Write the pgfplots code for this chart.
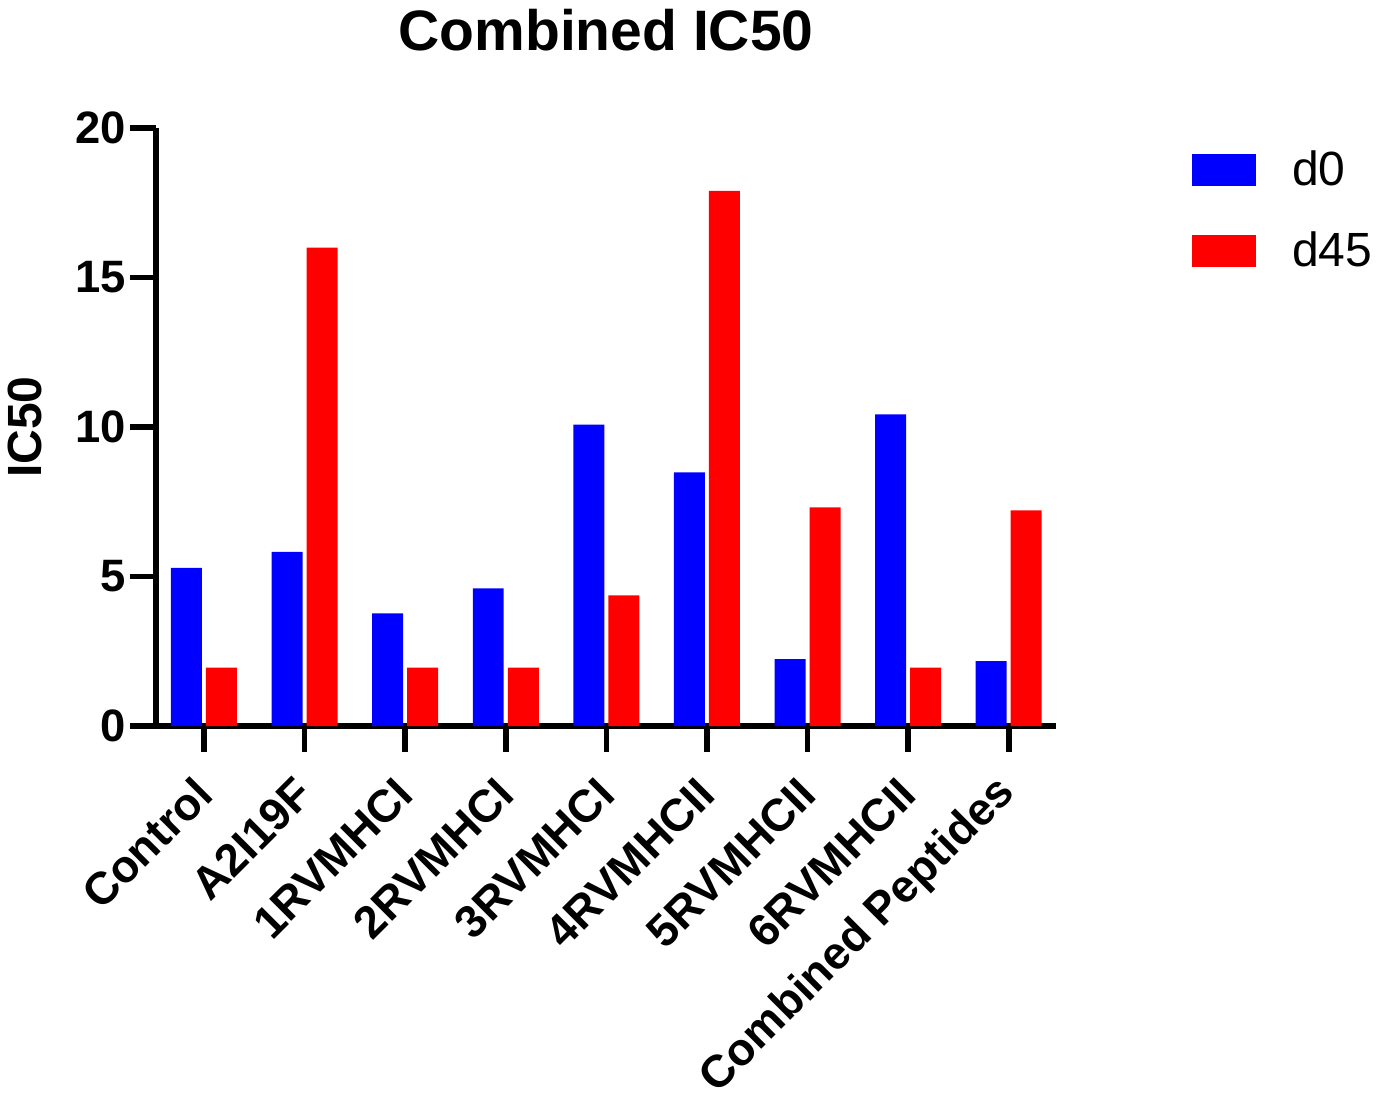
\documentclass[border=0pt]{standalone}
\usepackage{pgfplots}
\pgfplotsset{compat=1.18}
\usepackage{fontspec}
\setmainfont{Liberation Sans}
\begin{document}
\begin{tikzpicture}
\path[use as bounding box] (-78pt,-184pt) rectangle (611pt,363pt);
\begin{axis}[
  scale only axis,
  width=450pt, height=299pt,
  xmin=-0.477, xmax=8.47,
  ymin=0, ymax=20,
  axis x line=bottom, axis y line=left,
  axis line style={-, line width=2.8pt, black},
  tick style={line width=2.8pt, black},
  tick align=outside,
  major tick length=13pt,
  xtick={0,1,2,3,4,5,6,7,8},
  xticklabels={Control,A2I19F,1RVMHCI,2RVMHCI,3RVMHCI,4RVMHCII,5RVMHCII,6RVMHCII,Combined Peptides},
  ytick={0,5,10,15,20},
  /pgf/number format/assume math mode=true,
  ticklabel style={font=\fontsize{22.7}{27}\selectfont\bfseries, inner sep=0pt},
  yticklabel style={anchor=east, xshift=-2pt},
  xticklabel style={yshift=-17pt, rotate=45, anchor=east},
  ylabel={IC50},
  ylabel style={at={(axis description cs:-0.1456,0.5)}, anchor=center, font=\fontsize{24}{28}\selectfont\bfseries},
  title={Combined IC50},
  title style={at={(axis description cs:0.5,1.1304)}, anchor=base, yshift=-6pt, font=\fontsize{28.5}{34}\selectfont\bfseries},
  legend style={at={(axis description cs:1.151,0.962)}, anchor=north west, draw=none, fill=none, inner sep=0pt,
    font=\fontsize{24}{28}\selectfont, row sep=21.5pt,
    nodes={inner sep=0pt}},
  legend cell align=left,
  /tikz/every odd column/.append style={column sep=18pt},
  legend image code/.code={\path[#1, draw=none] (0pt,-8pt) rectangle (32pt,8pt);},
]
\addplot[ybar, fill=blue, draw=none, bar width=0.308, bar shift=-0.174] coordinates {
(0,5.29) (1,5.82) (2,3.77) (3,4.6) (4,10.08) (5,8.48) (6,2.24) (7,10.42) (8,2.17)};
\addplot[ybar, fill=red, draw=none, bar width=0.308, bar shift=0.174] coordinates {
(0,1.95) (1,16.0) (2,1.95) (3,1.95) (4,4.37) (5,17.9) (6,7.31) (7,1.95) (8,7.21)};
\legend{d0,d45}
\end{axis}
\end{tikzpicture}
\end{document}
